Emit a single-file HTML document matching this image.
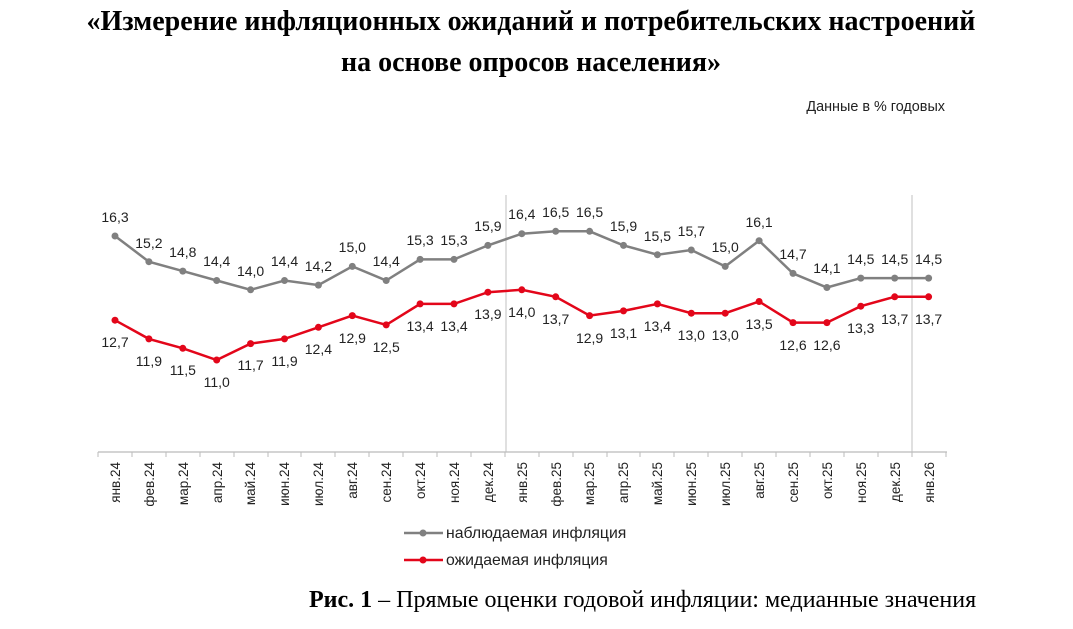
<!DOCTYPE html>
<html><head><meta charset="utf-8"><style>
body{margin:0;background:#fff;width:1073px;height:629px;overflow:hidden}
svg{display:block}
.t{font-family:"Liberation Serif",serif;font-weight:bold;font-size:28px;fill:#000}
.l{font-family:"Liberation Sans",sans-serif;font-size:14px;fill:#222}
.m{font-family:"Liberation Sans",sans-serif;font-size:13.5px;fill:#222}
</style></head><body>
<svg width="1073" height="629" xmlns="http://www.w3.org/2000/svg">
<text class="t" x="531" y="30" text-anchor="middle">«Измерение инфляционных ожиданий и потребительских настроений</text>
<text class="t" x="531" y="71" text-anchor="middle">на основе опросов населения»</text>
<text x="945" y="111" text-anchor="end" style="font-family:'Liberation Sans',sans-serif;font-size:14.4px;fill:#222">Данные в % годовых</text>
<line x1="506" y1="195" x2="506" y2="452" stroke="#ccc" stroke-width="1.2"/>
<line x1="912" y1="195" x2="912" y2="452" stroke="#ccc" stroke-width="1.2"/>
<line x1="98" y1="452" x2="947" y2="452" stroke="#bbb" stroke-width="1.2"/>
<g stroke="#bbb" stroke-width="1">
<line x1="98" y1="452" x2="98" y2="457"/><line x1="132" y1="452" x2="132" y2="457"/><line x1="166" y1="452" x2="166" y2="457"/><line x1="200" y1="452" x2="200" y2="457"/><line x1="234" y1="452" x2="234" y2="457"/><line x1="268" y1="452" x2="268" y2="457"/><line x1="301" y1="452" x2="301" y2="457"/><line x1="335" y1="452" x2="335" y2="457"/><line x1="369" y1="452" x2="369" y2="457"/><line x1="403" y1="452" x2="403" y2="457"/><line x1="437" y1="452" x2="437" y2="457"/><line x1="471" y1="452" x2="471" y2="457"/><line x1="505" y1="452" x2="505" y2="457"/><line x1="539" y1="452" x2="539" y2="457"/><line x1="573" y1="452" x2="573" y2="457"/><line x1="607" y1="452" x2="607" y2="457"/><line x1="640" y1="452" x2="640" y2="457"/><line x1="674" y1="452" x2="674" y2="457"/><line x1="708" y1="452" x2="708" y2="457"/><line x1="742" y1="452" x2="742" y2="457"/><line x1="776" y1="452" x2="776" y2="457"/><line x1="810" y1="452" x2="810" y2="457"/><line x1="844" y1="452" x2="844" y2="457"/><line x1="878" y1="452" x2="878" y2="457"/><line x1="912" y1="452" x2="912" y2="457"/><line x1="946" y1="452" x2="946" y2="457"/>
</g>
<polyline fill="none" stroke="#808080" stroke-width="2.5" points="115,236 148.9,261.7 182.8,271.1 216.7,280.5 250.6,289.8 284.5,280.5 318.4,285.1 352.3,266.4 386.2,280.5 420.1,259.4 454,259.4 487.9,245.4 521.8,233.7 555.7,231.3 589.6,231.3 623.5,245.4 657.4,254.7 691.3,250 725.2,266.4 759.1,240.7 793,273.4 826.9,287.5 860.8,278.1 894.7,278.1 928.6,278.1"/>
<g fill="#808080">
<circle cx="115" cy="236" r="3.5"/><circle cx="148.9" cy="261.7" r="3.5"/><circle cx="182.8" cy="271.1" r="3.5"/><circle cx="216.7" cy="280.5" r="3.5"/><circle cx="250.6" cy="289.8" r="3.5"/><circle cx="284.5" cy="280.5" r="3.5"/><circle cx="318.4" cy="285.1" r="3.5"/><circle cx="352.3" cy="266.4" r="3.5"/><circle cx="386.2" cy="280.5" r="3.5"/><circle cx="420.1" cy="259.4" r="3.5"/><circle cx="454" cy="259.4" r="3.5"/><circle cx="487.9" cy="245.4" r="3.5"/><circle cx="521.8" cy="233.7" r="3.5"/><circle cx="555.7" cy="231.3" r="3.5"/><circle cx="589.6" cy="231.3" r="3.5"/><circle cx="623.5" cy="245.4" r="3.5"/><circle cx="657.4" cy="254.7" r="3.5"/><circle cx="691.3" cy="250" r="3.5"/><circle cx="725.2" cy="266.4" r="3.5"/><circle cx="759.1" cy="240.7" r="3.5"/><circle cx="793" cy="273.4" r="3.5"/><circle cx="826.9" cy="287.5" r="3.5"/><circle cx="860.8" cy="278.1" r="3.5"/><circle cx="894.7" cy="278.1" r="3.5"/><circle cx="928.6" cy="278.1" r="3.5"/>
</g>
<polyline fill="none" stroke="#e3061a" stroke-width="2.5" points="115,320.2 148.9,338.9 182.8,348.3 216.7,360 250.6,343.6 284.5,338.9 318.4,327.3 352.3,315.6 386.2,324.9 420.1,303.9 454,303.9 487.9,292.2 521.8,289.8 555.7,296.8 589.6,315.6 623.5,310.9 657.4,303.9 691.3,313.2 725.2,313.2 759.1,301.5 793,322.6 826.9,322.6 860.8,306.2 894.7,296.8 928.6,296.8"/>
<g fill="#e3061a">
<circle cx="115" cy="320.2" r="3.5"/><circle cx="148.9" cy="338.9" r="3.5"/><circle cx="182.8" cy="348.3" r="3.5"/><circle cx="216.7" cy="360" r="3.5"/><circle cx="250.6" cy="343.6" r="3.5"/><circle cx="284.5" cy="338.9" r="3.5"/><circle cx="318.4" cy="327.3" r="3.5"/><circle cx="352.3" cy="315.6" r="3.5"/><circle cx="386.2" cy="324.9" r="3.5"/><circle cx="420.1" cy="303.9" r="3.5"/><circle cx="454" cy="303.9" r="3.5"/><circle cx="487.9" cy="292.2" r="3.5"/><circle cx="521.8" cy="289.8" r="3.5"/><circle cx="555.7" cy="296.8" r="3.5"/><circle cx="589.6" cy="315.6" r="3.5"/><circle cx="623.5" cy="310.9" r="3.5"/><circle cx="657.4" cy="303.9" r="3.5"/><circle cx="691.3" cy="313.2" r="3.5"/><circle cx="725.2" cy="313.2" r="3.5"/><circle cx="759.1" cy="301.5" r="3.5"/><circle cx="793" cy="322.6" r="3.5"/><circle cx="826.9" cy="322.6" r="3.5"/><circle cx="860.8" cy="306.2" r="3.5"/><circle cx="894.7" cy="296.8" r="3.5"/><circle cx="928.6" cy="296.8" r="3.5"/>
</g>
<g class="l" text-anchor="middle">
<text x="115" y="222">16,3</text><text x="148.9" y="248">15,2</text><text x="182.8" y="257">14,8</text><text x="216.7" y="266">14,4</text><text x="250.6" y="276">14,0</text><text x="284.5" y="266">14,4</text><text x="318.4" y="271">14,2</text><text x="352.3" y="252">15,0</text><text x="386.2" y="266">14,4</text><text x="420.1" y="245">15,3</text><text x="454" y="245">15,3</text><text x="487.9" y="231">15,9</text><text x="521.8" y="219">16,4</text><text x="555.7" y="217">16,5</text><text x="589.6" y="217">16,5</text><text x="623.5" y="231">15,9</text><text x="657.4" y="241">15,5</text><text x="691.3" y="236">15,7</text><text x="725.2" y="252">15,0</text><text x="759.1" y="227">16,1</text><text x="793" y="259">14,7</text><text x="826.9" y="273">14,1</text><text x="860.8" y="264">14,5</text><text x="894.7" y="264">14,5</text><text x="928.6" y="264">14,5</text>
<text x="115" y="347">12,7</text><text x="148.9" y="366">11,9</text><text x="182.8" y="375">11,5</text><text x="216.7" y="387">11,0</text><text x="250.6" y="370">11,7</text><text x="284.5" y="366">11,9</text><text x="318.4" y="354">12,4</text><text x="352.3" y="343">12,9</text><text x="386.2" y="352">12,5</text><text x="420.1" y="331">13,4</text><text x="454" y="331">13,4</text><text x="487.9" y="319">13,9</text><text x="521.8" y="317">14,0</text><text x="555.7" y="324">13,7</text><text x="589.6" y="343">12,9</text><text x="623.5" y="338">13,1</text><text x="657.4" y="331">13,4</text><text x="691.3" y="340">13,0</text><text x="725.2" y="340">13,0</text><text x="759.1" y="329">13,5</text><text x="793" y="350">12,6</text><text x="826.9" y="350">12,6</text><text x="860.8" y="333">13,3</text><text x="894.7" y="324">13,7</text><text x="928.6" y="324">13,7</text>
</g>
<g class="m" text-anchor="end">
<text transform="translate(120,462) rotate(-90)">янв.24</text><text transform="translate(154,462) rotate(-90)">фев.24</text><text transform="translate(188,462) rotate(-90)">мар.24</text><text transform="translate(222,462) rotate(-90)">апр.24</text><text transform="translate(255,462) rotate(-90)">май.24</text><text transform="translate(289,462) rotate(-90)">июн.24</text><text transform="translate(323,462) rotate(-90)">июл.24</text><text transform="translate(357,462) rotate(-90)">авг.24</text><text transform="translate(391,462) rotate(-90)">сен.24</text><text transform="translate(425,462) rotate(-90)">окт.24</text><text transform="translate(459,462) rotate(-90)">ноя.24</text><text transform="translate(493,462) rotate(-90)">дек.24</text><text transform="translate(527,462) rotate(-90)">янв.25</text><text transform="translate(561,462) rotate(-90)">фев.25</text><text transform="translate(594,462) rotate(-90)">мар.25</text><text transform="translate(628,462) rotate(-90)">апр.25</text><text transform="translate(662,462) rotate(-90)">май.25</text><text transform="translate(696,462) rotate(-90)">июн.25</text><text transform="translate(730,462) rotate(-90)">июл.25</text><text transform="translate(764,462) rotate(-90)">авг.25</text><text transform="translate(798,462) rotate(-90)">сен.25</text><text transform="translate(832,462) rotate(-90)">окт.25</text><text transform="translate(866,462) rotate(-90)">ноя.25</text><text transform="translate(900,462) rotate(-90)">дек.25</text><text transform="translate(934,462) rotate(-90)">янв.26</text>
</g>
<line x1="404" y1="533" x2="443" y2="533" stroke="#808080" stroke-width="2.5"/><circle cx="423" cy="533" r="3.5" fill="#808080"/>
<text x="446" y="538" style="font-family:'Liberation Sans',sans-serif;font-size:15.8px;fill:#222">наблюдаемая  инфляция</text>
<line x1="404" y1="560" x2="443" y2="560" stroke="#e3061a" stroke-width="2.5"/><circle cx="423" cy="560" r="3.5" fill="#e3061a"/>
<text x="446" y="565" style="font-family:'Liberation Sans',sans-serif;font-size:15.8px;fill:#222">ожидаемая  инфляция</text>
<text x="309" y="607" style="font-family:'Liberation Serif',serif;font-size:24px;fill:#000"><tspan font-weight="bold">Рис. 1</tspan> – Прямые оценки годовой инфляции: медианные значения</text>
</svg>
</body></html>
